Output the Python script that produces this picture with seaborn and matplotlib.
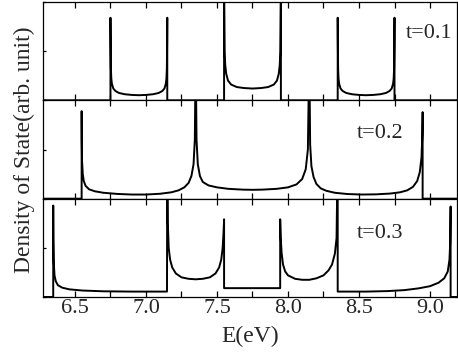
import matplotlib
matplotlib.use("Agg")
import matplotlib.pyplot as plt
import seaborn as sns
import pandas as pd
from matplotlib.ticker import MultipleLocator

sns.set_theme(style="white")
plt.rcParams['font.family'] = ['Liberation Serif', 'DejaVu Serif']

# ---- data ----
labels = ["t=0.1", "t=0.2", "t=0.3"]

E_t1 = [6.275, 6.75, 6.75, 6.751, 6.753, 6.756, 6.76, 6.77, 6.785, 6.81, 6.85, 6.90, 6.95,
        7.00, 7.05, 7.09, 7.115, 7.13, 7.14, 7.144, 7.147, 7.149, 7.15, 7.15,
        7.55, 7.55, 7.551, 7.554, 7.558, 7.565, 7.578, 7.60, 7.64, 7.69, 7.75,
        7.81, 7.86, 7.90, 7.922, 7.935, 7.942, 7.946, 7.949, 7.95, 7.95,
        8.35, 8.35, 8.351, 8.353, 8.356, 8.36, 8.37, 8.385, 8.41, 8.45, 8.50, 8.55,
        8.60, 8.65, 8.69, 8.715, 8.73, 8.74, 8.744, 8.747, 8.749, 8.75, 8.75, 9.19]
D_t1 = [0.0, 0.0, 0.84, 0.60, 0.32, 0.22, 0.17, 0.12, 0.095, 0.075, 0.062, 0.055, 0.052,
        0.055, 0.062, 0.075, 0.095, 0.12, 0.17, 0.22, 0.32, 0.60, 0.84, 0.0,
        0.0, 1.5, 1.0, 0.50, 0.36, 0.27, 0.20, 0.16, 0.135, 0.125, 0.12,
        0.125, 0.135, 0.16, 0.20, 0.27, 0.36, 0.50, 1.0, 1.5, 0.0,
        0.0, 0.84, 0.60, 0.32, 0.22, 0.17, 0.12, 0.095, 0.075, 0.062, 0.055, 0.052,
        0.055, 0.062, 0.075, 0.095, 0.12, 0.17, 0.22, 0.32, 0.60, 0.84, 0.0, 0.0]

E_t2 = [6.275, 6.547, 6.547, 6.548, 6.55, 6.555, 6.562, 6.575, 6.60, 6.64, 6.70, 6.80, 6.90,
        7.00, 7.10, 7.18, 7.23, 7.27, 7.30, 7.32, 7.335, 7.344, 7.35,
        7.356, 7.365, 7.38, 7.40, 7.44, 7.50, 7.58, 7.68, 7.75, 7.82, 7.92, 8.00, 8.06, 8.10,
        8.125, 8.14, 8.15,
        8.156, 8.165, 8.18, 8.20, 8.23, 8.27, 8.33, 8.42, 8.52, 8.62, 8.72, 8.79, 8.84, 8.88,
        8.91, 8.928, 8.94, 8.946, 8.948, 8.948, 9.19]
D_t2 = [0.0, 0.0, 0.89, 0.60, 0.38, 0.25, 0.18, 0.13, 0.095, 0.075, 0.06, 0.048, 0.042,
        0.042, 0.05, 0.065, 0.085, 0.115, 0.16, 0.23, 0.35, 0.60, 1.5,
        0.60, 0.35, 0.23, 0.17, 0.135, 0.115, 0.10, 0.092, 0.09, 0.092, 0.10, 0.115, 0.145, 0.20,
        0.30, 0.50, 1.5,
        0.55, 0.33, 0.22, 0.15, 0.105, 0.08, 0.06, 0.047, 0.042, 0.044, 0.052, 0.065, 0.085, 0.12,
        0.18, 0.27, 0.42, 0.65, 0.88, 0.0, 0.0]

E_t3 = [6.275, 6.347, 6.347, 6.348, 6.351, 6.356, 6.365, 6.38, 6.41, 6.46, 6.55, 6.70, 6.90,
        7.148, 7.15, 7.154, 7.16, 7.17, 7.185, 7.21, 7.25, 7.30, 7.35, 7.40, 7.45, 7.49, 7.515,
        7.53, 7.54, 7.546, 7.55, 7.55, 7.945, 7.945, 7.949, 7.955, 7.965, 7.98, 8.00, 8.05,
        8.10, 8.15, 8.20, 8.25, 8.285, 8.31, 8.33, 8.342, 8.35, 8.35, 8.55, 8.70, 8.82, 8.92,
        9.00, 9.06, 9.10, 9.125, 9.137, 9.142, 9.145, 9.145, 9.19]
D_t3 = [0.0, 0.0, 0.93, 0.60, 0.35, 0.22, 0.16, 0.12, 0.095, 0.078, 0.066, 0.058, 0.055,
        0.055, 1.5, 0.75, 0.50, 0.38, 0.30, 0.24, 0.20, 0.185, 0.18, 0.185, 0.20, 0.24, 0.30,
        0.38, 0.50, 0.65, 0.79, 0.09, 0.09, 0.79, 0.60, 0.45, 0.33, 0.26, 0.22, 0.185,
        0.175, 0.175, 0.19, 0.22, 0.27, 0.33, 0.44, 0.60, 1.5, 0.055, 0.055, 0.06, 0.07, 0.088,
        0.11, 0.145, 0.19, 0.26, 0.38, 0.55, 0.92, 0.0, 0.0]

x_ticks = [6.5, 7.0, 7.5, 8.0, 8.5, 9.0]
x_tick_labels = ["6.5", "7.0", "7.5", "8.0", "8.5", "9.0"]

series = [(E_t1, D_t1), (E_t2, D_t2), (E_t3, D_t3)]

fig = plt.figure(figsize=(4.58, 3.53), dpi=100)
fig.patch.set_facecolor("white")
left, right = 43 / 458, 457 / 458
top, bottom = 1 - 2 / 353, 1 - 297 / 353
h = (top - bottom) / 3

label_pos = [(0.99, 0.68), (0.87, 0.66), (0.87, 0.65)]
for i, ((E, D), lab) in enumerate(zip(series, labels)):
    ax = fig.add_axes([left, top - (i + 1) * h, right - left, h])
    df = pd.DataFrame({"E": E, "DOS": D})
    sns.lineplot(data=df, x="E", y="DOS", sort=False, estimator=None, ax=ax,
                 color="black", linewidth=1.4)
    ax.set_xlim(6.275, 9.19)
    ax.set_ylim(0, 1)
    ax.set_xticks(x_ticks)
    ax.xaxis.set_minor_locator(MultipleLocator(0.25))
    ax.set_yticks([0, 0.5, 1])
    ax.set_yticklabels([])
    ax.tick_params(axis="x", which="both", direction="in", top=True, bottom=True,
                   length=4, width=0.9, color="black")
    ax.tick_params(axis="y", which="both", direction="in", left=True, right=False,
                   length=2.5, width=0.9, color="black")
    for s in ax.spines.values():
        s.set_color("black")
        s.set_linewidth(0.9)
    ax.set_xlabel("")
    ax.set_ylabel("")
    if i < 2:
        ax.set_xticklabels([])
    else:
        ax.set_xticklabels(x_tick_labels, fontsize=16)
        ax.tick_params(axis="x", pad=1.5)
    ax.text(label_pos[i][0], label_pos[i][1], lab, transform=ax.transAxes,
            ha="right", va="center", fontsize=16)

fig.text(0.5 * (left + right), 1 - 336 / 353, "E(eV)", ha="center", va="center", fontsize=17)
fig.text(24 / 458, 0.5 * (top + bottom), "Density of State(arb. unit)", rotation=90,
         ha="center", va="center", fontsize=17)

fig.savefig("out.png", dpi=100, facecolor="white")
